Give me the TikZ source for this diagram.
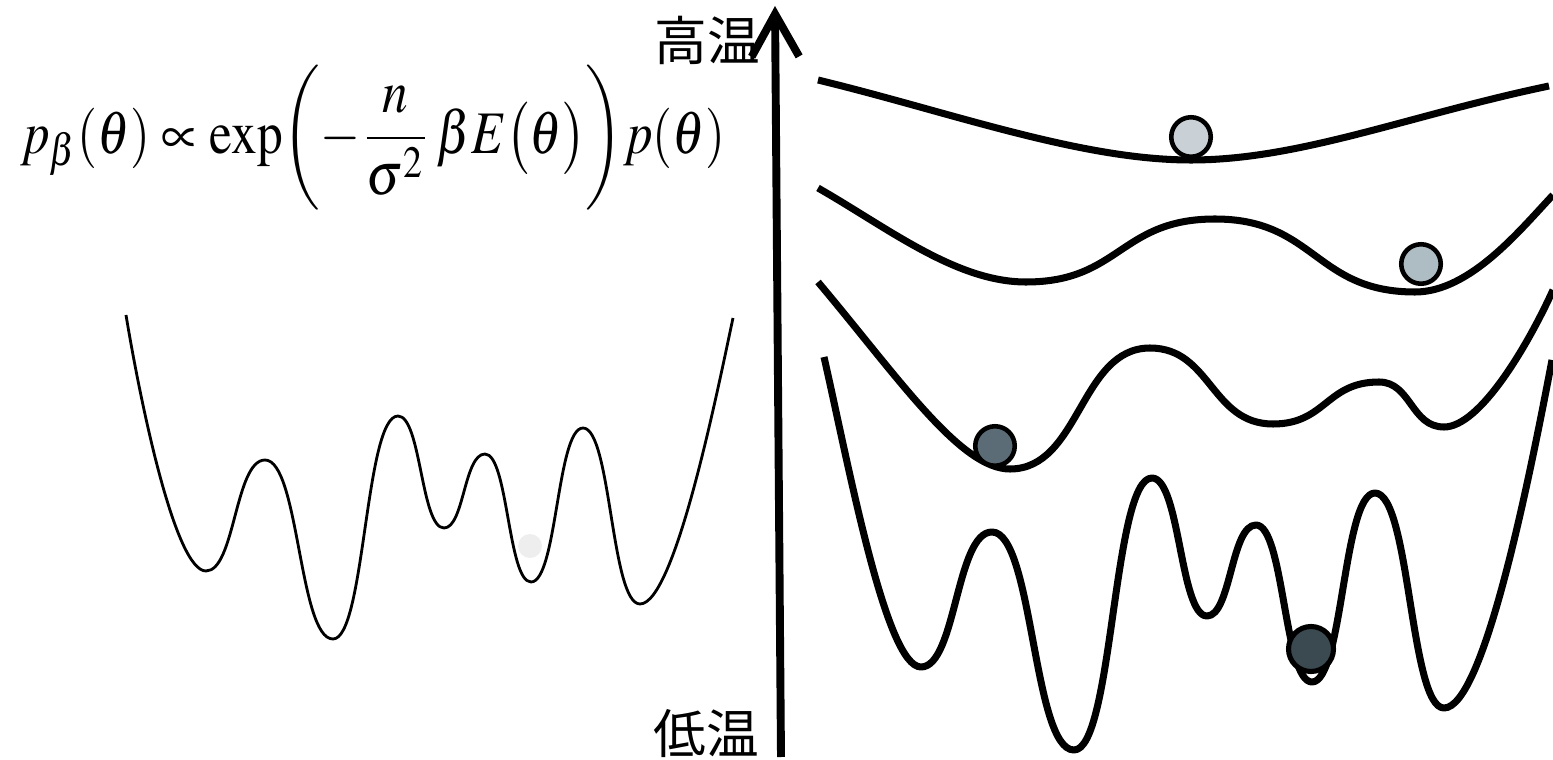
\documentclass[tikz,border=0pt]{standalone}
\usepackage{fontspec}
\usepackage{mathptmx}
\usepackage{graphicx}
\newfontfamily\cjk{Noto Sans CJK JP}
\usetikzlibrary{arrows.meta}
\definecolor{ballA}{HTML}{C9D1D7}
\definecolor{ballB}{HTML}{AEBCC3}
\definecolor{ballC}{HTML}{5B6C77}
\definecolor{ballD}{HTML}{3B4950}
\definecolor{ghost}{HTML}{EEEEEE}
\begin{document}
\begin{tikzpicture}[x=0.02cm,y=-0.02cm,
  landthin/.style={line width=1.6pt, line join=round},
  landthick/.style={line width=4pt, line join=round},
  ball/.style={circle, draw=black, line width=2.6pt, inner sep=0pt, minimum size=0.79cm},
  cjklabel/.style={font=\cjk\fontsize{30}{32}\selectfont, inner sep=0pt},
  axisarrow/.style={line width=4.5pt, -{Straight Barb[length=0.85cm,width=0.95cm]}}]
\useasboundingbox (0,0) rectangle (1553,760);

% formula
\node[anchor=west, inner sep=0pt] (formula) at (20,138)
  {\resizebox*{14.1cm}{2.9cm}{$\displaystyle p_{\beta}(\theta)\propto\exp\biggl(-\frac{n}{\sigma^{2}}\,\beta E\bigl(\theta\bigr)\biggr)p(\theta)$}};

% left landscape
\draw[landthin] (126,315)
  .. controls (140,400) and (175,571) .. (206,571)
  .. controls (235,571) and (235,460) .. (265,460)
  .. controls (299,460) and (299,639) .. (333,639)
  .. controls (365,639) and (365,416) .. (398,416)
  .. controls (421,416) and (421,528) .. (444,528)
  .. controls (464,528) and (464,454) .. (485,454)
  .. controls (508,454) and (508,582) .. (531,582)
  .. controls (557,582) and (557,428) .. (583,428)
  .. controls (611,428) and (611,604) .. (640,604)
  .. controls (675,604) and (718,388) .. (733,318);
\node[circle, fill=ghost, inner sep=0pt, minimum size=0.48cm] (ghostball) at (530,546) {};

% axis
\coordinate (abot) at (781,757);
\coordinate (atop) at (775,6);
\draw[axisarrow] (abot) -- (atop);
\node[cjklabel] (hot) at (707,40) {高温};
\node[cjklabel] (cold) at (706,734) {低温};

% curve 1
\draw[landthick] (818,80)
  .. controls (950,112) and (1080,160) .. (1191,160)
  .. controls (1300,160) and (1410,115) .. (1549,86);
% curve 2
\draw[landthick] (818,188)
  .. controls (888,228) and (956,282) .. (1026,282)
  .. controls (1120,282) and (1120,219) .. (1215,219)
  .. controls (1315,219) and (1315,292) .. (1415,292)
  .. controls (1470,292) and (1520,230) .. (1553,195);
% curve 3
\draw[landthick] (818,282)
  .. controls (898,377) and (960,469) .. (1010,469)
  .. controls (1080,469) and (1080,348) .. (1150,348)
  .. controls (1211,348) and (1211,424) .. (1273,424)
  .. controls (1326,424) and (1326,382) .. (1379,382)
  .. controls (1411,382) and (1411,427) .. (1444,427)
  .. controls (1480,427) and (1528,345) .. (1553,290);
% curve 4
\draw[landthick] (824,357)
  .. controls (849,467) and (886,667) .. (921,667)
  .. controls (956,667) and (956,532) .. (992,532)
  .. controls (1033,532) and (1033,750) .. (1074,750)
  .. controls (1113,750) and (1113,478) .. (1152,478)
  .. controls (1180,478) and (1180,616) .. (1207,616)
  .. controls (1231,616) and (1231,525) .. (1256,525)
  .. controls (1284,525) and (1284,682) .. (1312,682)
  .. controls (1343,682) and (1343,493) .. (1375,493)
  .. controls (1410,493) and (1410,708) .. (1444,708)
  .. controls (1484,708) and (1530,475) .. (1552,360);

% balls
\node[ball, fill=ballA] (b1) at (1191,137) {};
\node[ball, fill=ballB] (b2) at (1421,264) {};
\node[ball, fill=ballC] (b3) at (995,446) {};
\node[ball, fill=ballD, minimum size=0.9cm, line width=2.9pt] (b4) at (1311,649) {};
\end{tikzpicture}
\end{document}
